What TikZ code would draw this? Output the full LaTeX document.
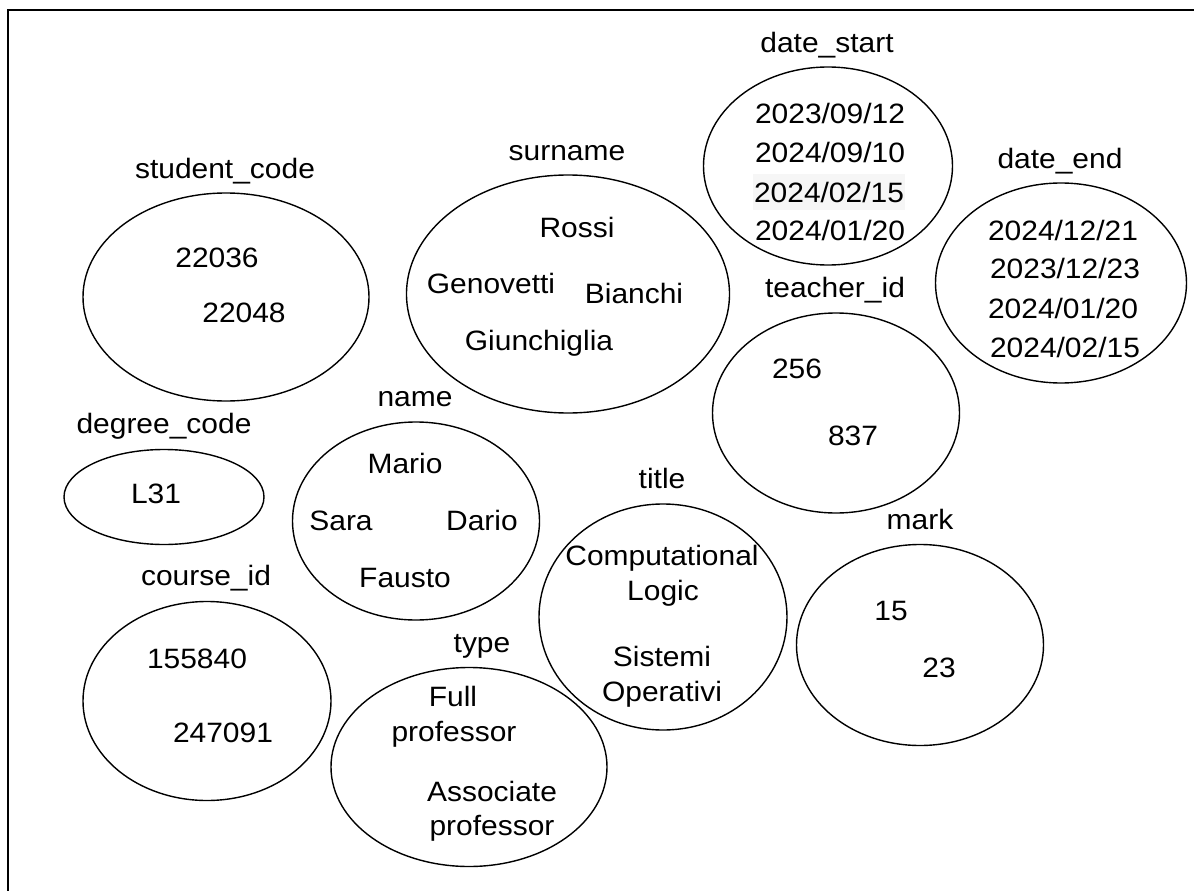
\documentclass[tikz,border=0pt]{standalone}
\usepackage{fontspec}
\setmainfont{Liberation Sans}[FakeStretch=1.07]
\usetikzlibrary{shapes.geometric}
\definecolor{hilite}{HTML}{F6F6F6}
\tikzset{
  setoval/.style={draw, ellipse, line width=1.4bp, inner sep=0pt,
                  minimum width=#1},
  txt/.style={anchor=base, inner sep=0pt, font=\fontsize{28bp}{32bp}\selectfont},
}
\begin{document}
\begin{tikzpicture}[x=1bp, y=-1bp]
\useasboundingbox (0,0) rectangle (1194,891);
% outer frame (only left and top edges fall inside the page)
\draw[line width=2.2bp] (8,891) -- (8,10) -- (1194,10);

% ---- attribute domains ----
% student_code
\node[setoval=286bp, minimum height=208bp] (sc) at (226,297) {};
\node[txt] (scl) at (225,178) {student\_code};
\node[txt] (sc1) at (217,267) {22036};
\node[txt] (sc2) at (244,322) {22048};

% degree_code
\node[setoval=200bp, minimum height=95bp] (dc) at (164,497) {};
\node[txt] (dcl) at (164,433) {degree\_code};
\node[txt] (dc1) at (156,503) {L31};

% course_id
\node[setoval=248bp, minimum height=199bp] (ci) at (207,701) {};
\node[txt] (cil) at (206,585) {course\_id};
\node[txt] (ci1) at (197,668) {155840};
\node[txt] (ci2) at (223,742) {247091};

% surname
\node[setoval=323bp, minimum height=238bp] (sn) at (568,294) {};
\node[txt] (snl) at (567,160) {surname};
\node[txt] (sn1) at (577,237) {Rossi};
\node[txt] (sn2) at (491,293) {Genovetti};
\node[txt] (sn3) at (634,303) {Bianchi};
\node[txt] (sn4) at (539,350) {Giunchiglia};

% name
\node[setoval=247bp, minimum height=198bp] (nm) at (416,521) {};
\node[txt] (nml) at (415,406) {name};
\node[txt] (nm1) at (405,473) {Mario};
\node[txt] (nm2) at (341,530) {Sara};
\node[txt] (nm3) at (482,530) {Dario};
\node[txt] (nm4) at (405,587) {Fausto};

% type
\node[setoval=276bp, minimum height=199bp] (ty) at (469,767) {};
\node[txt] (tyl) at (482,652) {type};
\node[txt] (ty1) at (453,706) {Full};
\node[txt] (ty2) at (454,741) {professor};
\node[txt] (ty3) at (492,801) {Associate};
\node[txt] (ty4) at (492,835) {professor};

% date_start
\node[setoval=249bp, minimum height=198bp] (ds) at (828,166) {};
\node[txt] (dsl) at (827,52) {date\_start};
\fill[hilite] (753,174) rectangle (905,210);
\node[txt] (ds1) at (830,123) {2023/09/12};
\node[txt] (ds2) at (830,162) {2024/09/10};
\node[txt] (ds3) at (829,202) {2024/02/15};
\node[txt] (ds4) at (830,240) {2024/01/20};

% date_end
\node[setoval=251bp, minimum height=200bp] (de) at (1061,283) {};
\node[txt] (del) at (1060,168) {date\_end};
\node[txt] (de1) at (1063,240) {2024/12/21};
\node[txt] (de2) at (1065,278) {2023/12/23};
\node[txt] (de3) at (1063,318) {2024/01/20};
\node[txt] (de4) at (1065,357) {2024/02/15};

% teacher_id
\node[setoval=247bp, minimum height=200bp] (ti) at (836,413) {};
\node[txt] (til) at (835,297) {teacher\_id};
\node[txt] (ti1) at (797,378) {256};
\node[txt] (ti2) at (853,445) {837};

% title
\node[setoval=248bp, minimum height=226bp] (tt) at (663,617) {};
\node[txt] (ttl) at (662,488) {title};
\node[txt] (tt1) at (662,565) {Computational};
\node[txt] (tt2) at (663,600) {Logic};
\node[txt] (tt3) at (662,666) {Sistemi};
\node[txt] (tt4) at (662,701) {Operativi};

% mark
\node[setoval=247bp, minimum height=201bp] (mk) at (920,645) {};
\node[txt] (mkl) at (920,529) {mark};
\node[txt] (mk1) at (891,620) {15};
\node[txt] (mk2) at (939,677) {23};
\end{tikzpicture}
\end{document}
